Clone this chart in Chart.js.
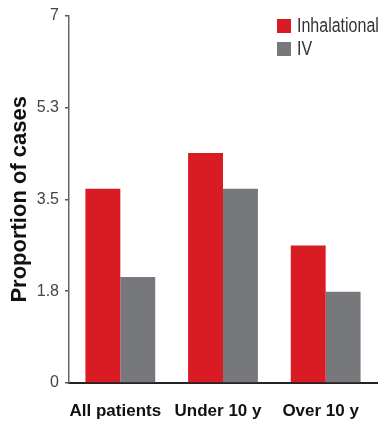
<!DOCTYPE html>
<html>
<head>
<meta charset="utf-8">
<script src="https://cdn.jsdelivr.net/npm/chart.js@4/dist/chart.umd.min.js"></script>
<style>
    html, body { margin: 0; padding: 0; background: #fff; }
    #wrap { position: relative; width: 383px; height: 425px; }
    #legend { position: absolute; left: 277px; top: 14px; font-family: 'Liberation Sans', sans-serif; font-size: 20px; color: #333; }
    #legend div { display: flex; align-items: center; height: 23px; white-space: nowrap; }
    #legend span.sw { display: inline-block; width: 14px; height: 14px; margin-right: 6px; flex: none; }
    #legend span.tx { display: inline-block; transform: scaleX(0.8); transform-origin: left center; }
</style>
</head>
<body>
<div id="wrap">
    <canvas id="chart" width="383" height="425"></canvas>
    <div id="legend"></div>
</div>
<script>
// Data
const categories = ['All patients', 'Under 10 y', 'Over 10 y'];
const inhalational = [3.70, 4.38, 2.62];
const iv = [2.02, 3.70, 1.74];
const yTicks = [0, 1.75, 3.5, 5.25, 7];
const yTickLabels = ['0', '1.8', '3.5', '5.3', '7'];

const RED = '#d91b24';
const GRAY = '#77787c';
const FONT = "'Liberation Sans', sans-serif";

// HTML legend, top right
const legendEl = document.getElementById('legend');
[['Inhalational', RED], ['IV', GRAY]].forEach(([name, col]) => {
    const row = document.createElement('div');
    row.innerHTML = `<span class="sw" style="background:${col}"></span><span class="tx">${name}</span>`;
    legendEl.appendChild(row);
});

new Chart(document.getElementById('chart'), {
    type: 'bar',
    data: {
        labels: categories,
        datasets: [
            { label: 'Inhalational', data: inhalational, backgroundColor: RED },
            { label: 'IV', data: iv, backgroundColor: GRAY }
        ]
    },
    options: {
        responsive: false,
        animation: false,
        layout: { padding: { top: 15, right: 6, left: 0, bottom: 0 } },
        datasets: { bar: { categoryPercentage: 0.68, barPercentage: 1.0 } },
        plugins: { legend: { display: false }, tooltip: { enabled: false } },
        scales: {
            x: {
                grid: { display: false },
                border: { display: true, color: '#222', width: 2 },
                ticks: { color: '#111', padding: 10, labelOffset: -5, font: { family: FONT, size: 17, weight: 'bold' } },
                afterFit: s => { s.height = 42; }
            },
            y: {
                min: 0,
                max: 7,
                afterBuildTicks: s => { s.ticks = yTicks.map(v => ({ value: v })); },
                grid: { display: true, drawOnChartArea: false, drawTicks: true, tickLength: 4, color: '#555', lineWidth: 1.5 },
                border: { display: true, color: '#666', width: 1.5 },
                ticks: {
                    color: '#444',
                    padding: 6,
                    font: { family: FONT, size: 16 },
                    callback: (v, i) => yTickLabels[i]
                },
                title: {
                    display: true,
                    text: 'Proportion of cases',
                    color: '#111',
                    padding: { top: 7, bottom: 0 },
                    font: { family: FONT, size: 22, weight: 'bold' }
                },
                afterFit: s => { s.width = 69; }
            }
        }
    }
});
</script>
</body>
</html>
